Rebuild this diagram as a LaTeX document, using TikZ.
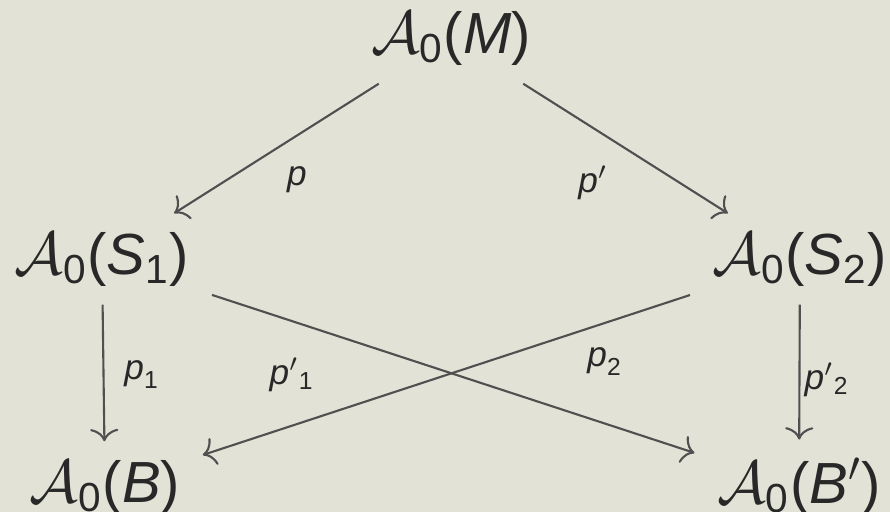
\documentclass[tikz,border=0pt]{standalone}
\usepackage{amsmath}
\usepackage{fontspec}
\setsansfont{Liberation Sans}
\usepackage{xcolor}
\usepackage{tikz}
\usetikzlibrary{arrows.meta}
\definecolor{slidebg}{RGB}{226,227,214}
\definecolor{ink}{RGB}{40,40,40}
\definecolor{wire}{RGB}{80,80,80}
\newcommand{\Az}[1]{$\mathcal{A}_{\text{0}}$(#1)}

\begin{document}
\begin{tikzpicture}[>={To[length=3.5pt,width=8pt]},x=0.01cm,y=-0.01cm,
obj/.style={text=ink,inner xsep=0.22cm,inner ysep=0.18cm,font=\sffamily\fontsize{16.5}{20}\selectfont},
lbl/.style={text=ink,inner sep=0pt,font=\sffamily\fontsize{10}{12}\selectfont},
arr/.style={->,draw=wire,line width=0.6pt}]
\fill[slidebg](0,0)rectangle(890,512);
\useasboundingbox(0,0)rectangle(890,512);
\node[obj](M)at(451,38){\Az{\textit{M}}};
\node[obj](S1)at(102,259){\Az{$\textit{S}_{\text{1}}$}};
\node[obj](S2)at(800,259){\Az{$\textit{S}_{\text{2}}$}};
\node[obj](B)at(105,487){\Az{\textit{B}}};
\node[obj](Bp)at(799,487){\Az{\textit{B}$'$}};
\draw[arr](M)--(S1);
\draw[arr](M)--(S2);
\draw[arr](S1)--(B);
\draw[arr](S2)--(Bp);
\draw[arr](S1)--(Bp);
\draw[arr](S2)--(B);
\node[lbl](p)at(297,180){$\textit{p}$};
\node[lbl](pp)at(593,183){$\textit{p}'$};
\node[lbl](p1)at(142,375){$\textit{p}_{\text{1}}$};
\node[lbl](pp1)at(292,375){$\textit{p}'{}_{\text{1}}$};
\node[lbl](p2)at(605,362){$\textit{p}_{\text{2}}$};
\node[lbl](pp2)at(827,380){$\textit{p}'{}_{\text{2}}$};
\end{tikzpicture}
\end{document}
